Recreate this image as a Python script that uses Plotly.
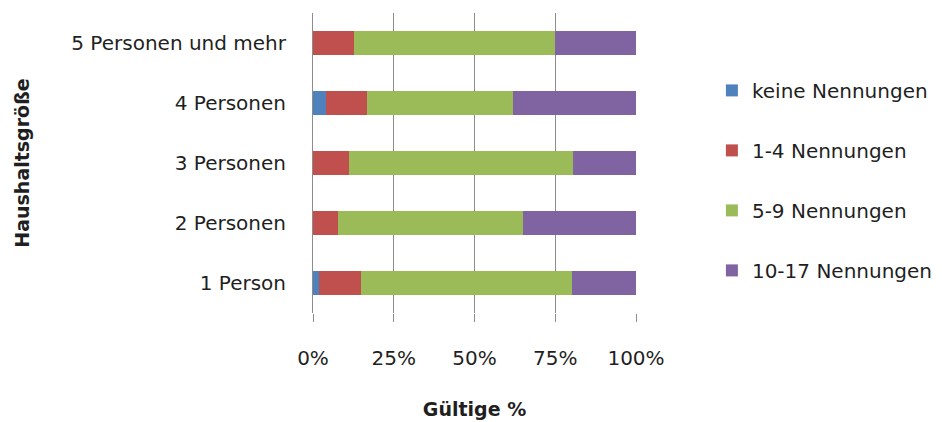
import plotly.graph_objects as go

# Haushaltsgröße vs. Anzahl Nennungen (Gültige %)
categories = ["1 Person", "2 Personen", "3 Personen", "4 Personen", "5 Personen und mehr"]
keine = [2.0, 0.0, 0.0, 3.9, 0.0]
n_1_4 = [12.9, 7.8, 11.0, 12.9, 12.8]
n_5_9 = [65.4, 57.3, 69.6, 45.2, 62.1]
n_10_17 = [19.7, 34.9, 19.4, 38.0, 25.1]

series = [
    ("keine Nennungen", keine, "#4f81bd"),
    ("1-4 Nennungen", n_1_4, "#c0504d"),
    ("5-9 Nennungen", n_5_9, "#9bbb59"),
    ("10-17 Nennungen", n_10_17, "#8064a2"),
]

FONT = "'DejaVu Sans', sans-serif"

fig = go.Figure()
for name, vals, color in series:
    fig.add_trace(go.Bar(y=categories, x=vals, name=name, orientation="h",
                         marker=dict(color=color, line=dict(width=0)),
                         legendgroup=name))

# page has ~8px body margin, so the figure is a bit smaller than the window
fig.update_layout(
    barmode="stack",
    bargap=0.6,
    width=934, height=414,
    margin=dict(l=305, r=306, t=5, b=109, autoexpand=False),
    paper_bgcolor="white", plot_bgcolor="white",
    font=dict(family=FONT, size=20, color="#1f1f1f"),
    showlegend=True,
    legend=dict(x=1.235, y=0.807, xanchor="left", yanchor="top",
                traceorder="grouped", tracegroupgap=31,
                font=dict(size=20), itemwidth=30),
)
fig.update_xaxes(range=[0, 100], tickvals=[0, 25, 50, 75, 100],
                 ticktext=["0%", "25%", "50%", "75%", "100%"],
                 showgrid=True, gridcolor="#8c8c8c", gridwidth=1,
                 zeroline=False, showline=False,
                 ticks="outside", ticklen=8, tickcolor="#8c8c8c",
                 ticklabelstandoff=19,
                 title=dict(text="<b>Gültige %</b>", standoff=33,
                            font=dict(size=19)))
fig.update_yaxes(showline=True, linecolor="#8c8c8c", linewidth=1,
                 ticks="", showgrid=False, ticklabelstandoff=22,
                 title=dict(text="<b>Haushaltsgröße</b>", standoff=36,
                            font=dict(size=19)))

fig.write_html("out.html")
